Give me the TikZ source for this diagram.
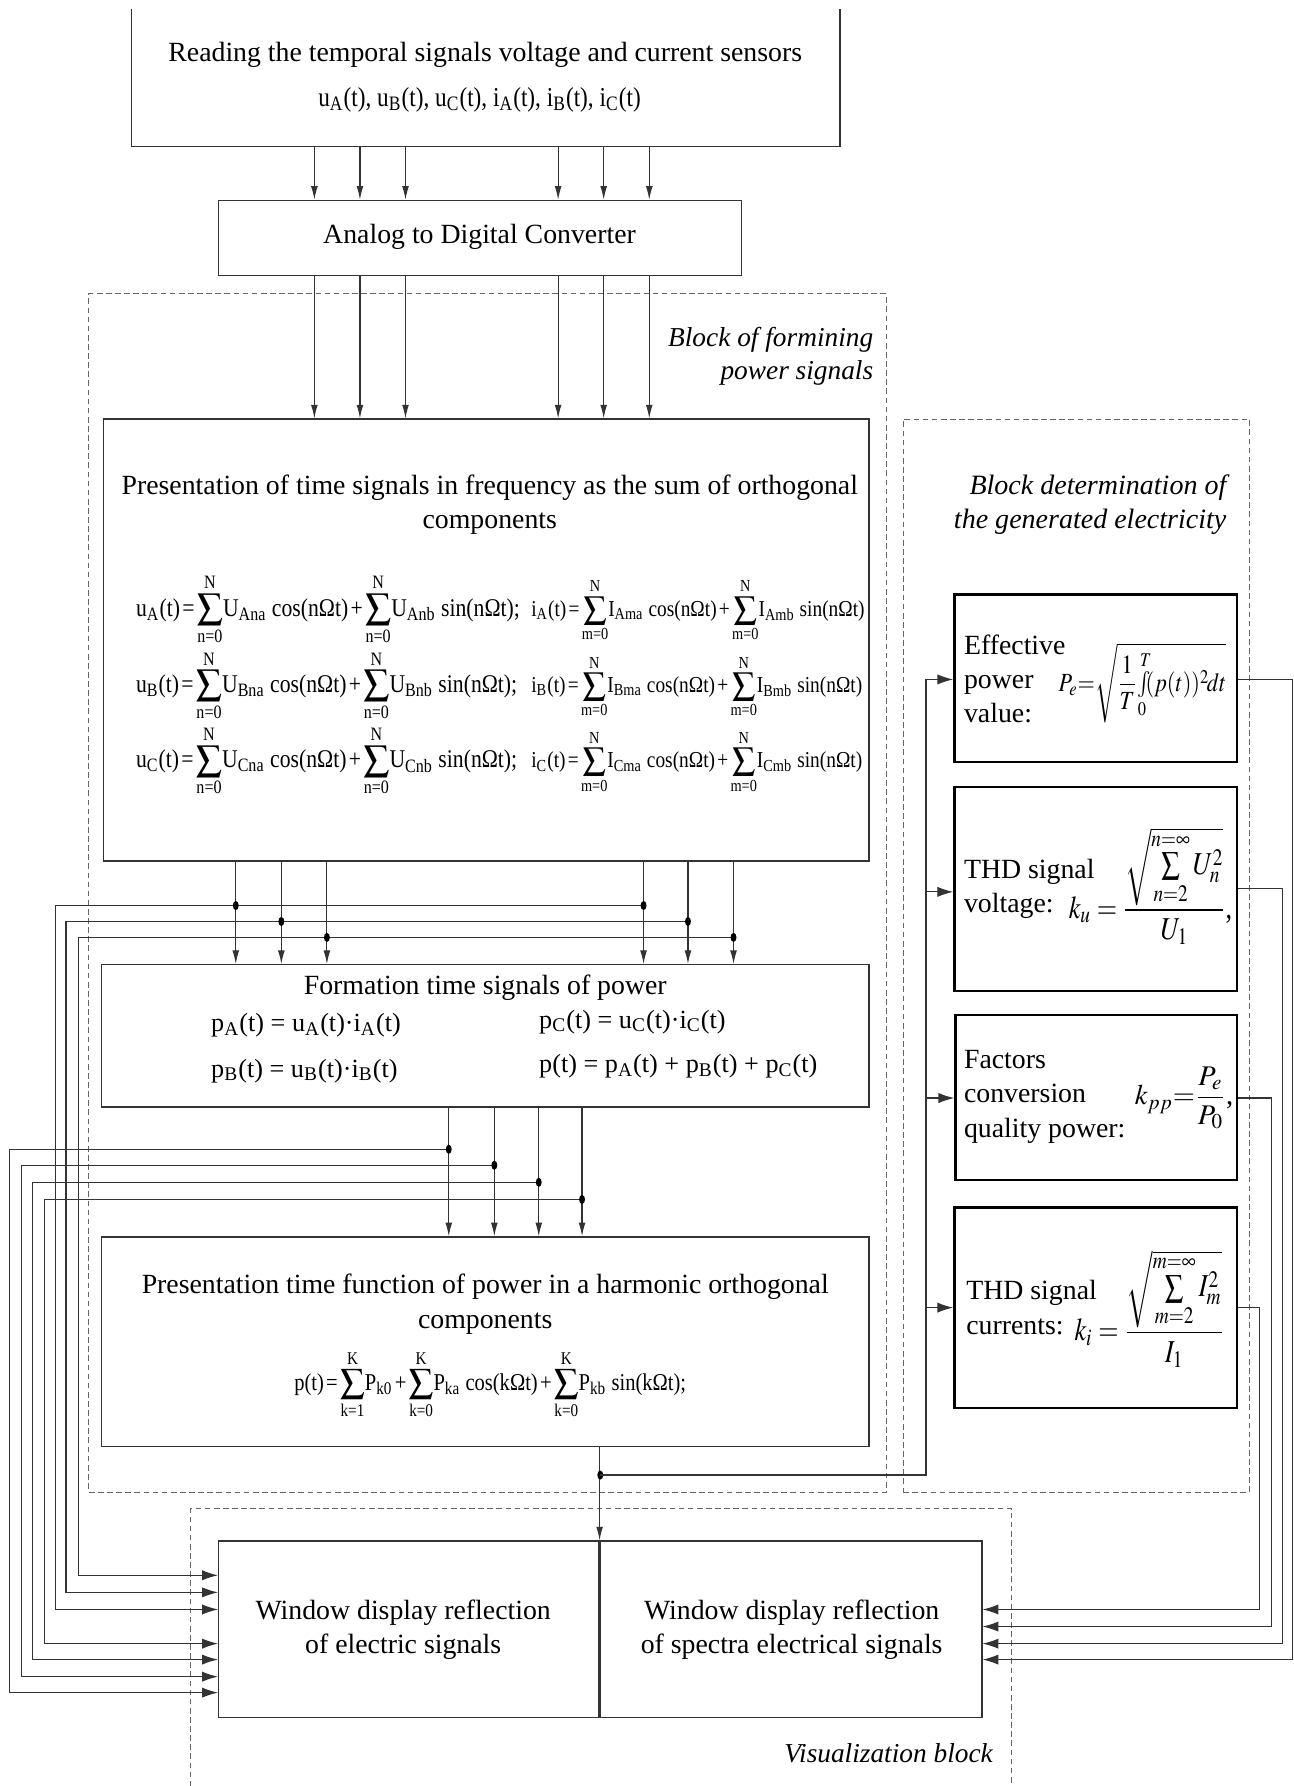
\documentclass[tikz,border=0pt]{standalone}
\usepackage{amsmath}
\usepackage{mathptmx}
\usepackage{graphicx}
\usepackage{fontspec}
\setmainfont{Liberation Serif}
\newfontfamily\cond[FakeStretch=0.85]{Liberation Serif}
\usetikzlibrary{arrows.meta,fit,calc}
\newcommand{\sbs}[1]{\textsubscript{#1}}
\newcommand{\mysum}[2]{$\displaystyle\sum_{\text{#1}}^{\text{#2}}$}
\newcommand{\ks}{\kern1pt}
\begin{document}
\begin{tikzpicture}[x=0.5pt,y=-0.5pt,
  box/.style={draw=black!80, line width=0.6pt, inner sep=0pt},
  rbox/.style={draw=black, line width=1.1pt, inner sep=0pt},
  dbox/.style={draw=black!60, dash pattern=on 2.5pt off 1.5pt, line width=0.45pt, inner sep=0pt},
  conn/.style={draw=black!80, line width=0.5pt},
  arr/.style={conn, -{Latex[length=6pt,width=3pt]}},
  sarr/.style={conn, -{Latex[length=7pt,width=4.5pt]}},
  txt/.style={font=\fontsize{12.2}{15}\selectfont, inner sep=0pt},
  eq/.style={font=\cond\fontsize{11.2}{13}\selectfont, inner sep=0pt},
  eqr/.style={font=\cond\fontsize{10}{13}\selectfont, inner sep=0pt},
  feq/.style={font=\fontsize{11.5}{13}\selectfont, inner sep=0pt},
  lbl/.style={font=\fontsize{12}{14.5}\selectfont\itshape, inner sep=0pt, align=right}]
\useasboundingbox (0,0) rectangle (1136,1568);

% dashed blocks
\node[dbox, fit={(78,258) (778,1310)}] (blkP) {};
\node[dbox, fit={(793,368) (1097,1310)}] (blkD) {};
\node[inner sep=0pt, fit={(168,1325) (888,1568)}] (blkV) {};
\draw[dbox] (blkV.south west) -- (blkV.north west) -- (blkV.north east) -- (blkV.south east);

% boxes
\node[inner sep=0pt, fit={(116,8) (737,128)}] (top) {};
\draw[box] (top.north west) -- (top.south west) -- (top.south east) -- (top.north east);
\node[box, fit={(192,176) (651,242)}] (adc) {};
\node[box, fit={(91,368) (763,756)}] (pres1) {};
\node[box, fit={(89,847) (763,972)}] (form) {};
\node[box, fit={(89,1086) (763,1270)}] (pres2) {};
\node[box, fit={(192,1353) (526,1508)}] (win1) {};
\node[box, fit={(527,1353) (862,1508)}] (win2) {};
\node[rbox, fit={(838,522) (1086,669)}] (eff) {};
\node[rbox, fit={(838,691) (1086,870)}] (thdu) {};
\node[rbox, fit={(839,891) (1086,1036)}] (fac) {};
\node[rbox, fit={(838,1060) (1086,1236)}] (thdi) {};

% texts
\node[txt] (t1) at (426,48) {Reading the temporal signals voltage and current sensors};
\node[txt, font=\cond\fontsize{12}{15}\selectfont] (t2) at (421,88) {u\sbs{A}(t), u\sbs{B}(t), u\sbs{C}(t), i\sbs{A}(t), i\sbs{B}(t), i\sbs{C}(t)};
\node[txt] (tadc) at (421,208) {Analog to Digital Converter};
\node[lbl, anchor=east] (lp) at (767,313) {Block of formining\\power signals};
\node[txt, align=center] (tp1) at (430,443) {Presentation of time signals in frequency as the sum of orthogonal\\components};

\node[eq, anchor=base west] (e1) at (119,541) {u\sbs{A}(t)\ks=\ks\mysum{n=0}{N}U\sbs{Ana} cos(nΩt)\ks+\ks\mysum{n=0}{N}U\sbs{Anb} sin(nΩt);};
\node[eq, anchor=base west] (e2) at (119,608) {u\sbs{B}(t)\ks=\ks\mysum{n=0}{N}U\sbs{Bna} cos(nΩt)\ks+\ks\mysum{n=0}{N}U\sbs{Bnb} sin(nΩt);};
\node[eq, anchor=base west] (e3) at (119,674) {u\sbs{C}(t)\ks=\ks\mysum{n=0}{N}U\sbs{Cna} cos(nΩt)\ks+\ks\mysum{n=0}{N}U\sbs{Cnb} sin(nΩt);};
\node[eqr, anchor=base west] (e4) at (466,541) {i\sbs{A}(t)\ks=\ks\mysum{m=0}{N}I\sbs{Ama} cos(nΩt)\ks+\ks\mysum{m=0}{N}I\sbs{Amb} sin(nΩt)};
\node[eqr, anchor=base west] (e5) at (466,608) {i\sbs{B}(t)\ks=\ks\mysum{m=0}{N}I\sbs{Bma} cos(nΩt)\ks+\ks\mysum{m=0}{N}I\sbs{Bmb} sin(nΩt)};
\node[eqr, anchor=base west] (e6) at (466,674) {i\sbs{C}(t)\ks=\ks\mysum{m=0}{N}I\sbs{Cma} cos(nΩt)\ks+\ks\mysum{m=0}{N}I\sbs{Cmb} sin(nΩt)};

\node[txt] (tf) at (426,867) {Formation time signals of power};
\node[feq, anchor=west] (f1) at (185,900) {p\sbs{A}(t) = u\sbs{A}(t)·i\sbs{A}(t)};
\node[feq, anchor=west] (f2) at (185,940) {p\sbs{B}(t) = u\sbs{B}(t)·i\sbs{B}(t)};
\node[feq, anchor=west] (f3) at (473,897) {p\sbs{C}(t) = u\sbs{C}(t)·i\sbs{C}(t)};
\node[feq, anchor=west] (f4) at (473,936) {p(t) = p\sbs{A}(t) + p\sbs{B}(t) + p\sbs{C}(t)};

\node[txt, align=center] (tp2) at (426,1145) {Presentation time function of power in a harmonic orthogonal\\components};
\node[eq, font=\cond\fontsize{10.6}{13}\selectfont, anchor=base west] (e7) at (258,1221) {p(t)\ks=\ks\mysum{k=1}{K}P\sbs{k0}\ks+\ks\mysum{k=0}{K}P\sbs{ka} cos(kΩt)\ks+\ks\mysum{k=0}{K}P\sbs{kb} sin(kΩt);};

\node[txt, align=center] (tw1) at (354,1431) {Window display reflection\\of electric signals};
\node[txt, align=center] (tw2) at (695,1431) {Window display reflection\\of spectra electrical signals};
\node[lbl, anchor=east] (lv) at (872,1539) {Visualization block};
\node[lbl, anchor=east, font=\fontsize{12.3}{15}\selectfont\itshape] (ld) at (1077,443) {Block determination of\\the generated electricity};

\node[txt, anchor=west, align=left] (te) at (846,596) {Effective\\power\\value:};
\node[txt, anchor=base west, font=\fontsize{11.5}{15}\selectfont] (me) at (929,607) {\scalebox{0.85}[1]{$P_e{=}\sqrt{\dfrac{1}{T}\!\int\limits_0^T\!\!(p(t))^2\!dt}$}};
\node[txt, anchor=west, align=left] (tu) at (846,780) {THD signal\\voltage:};
\node[txt, anchor=base west, font=\fontsize{14}{16}\selectfont] (mu) at (938,806) {\scalebox{0.82}[1]{$k_u=\dfrac{\sqrt{\sum\limits_{n=2}^{n=\infty}U_n^2}}{U_1}$,}};
\node[txt, anchor=west, align=left] (tfac) at (846,963) {Factors\\conversion\\quality power:};
\node[txt, anchor=base west, font=\fontsize{12.5}{16}\selectfont] (mf) at (996,970) {$k_{pp}{=}\dfrac{P_e}{P_0}$,};
\node[txt, anchor=west, align=left] (ti) at (848,1148) {THD signal\\currents:};
\node[txt, anchor=base west, font=\fontsize{14}{16}\selectfont] (mi) at (943,1177) {\scalebox{0.82}[1]{$k_i=\dfrac{\sqrt{\sum\limits_{m=2}^{m=\infty}I_m^2}}{I_1}$}};

% connectors top -> adc -> pres1
\foreach \x in {276,316,356,490,530,570}{
  \coordinate (c) at (\x,0);
  \draw[arr] (top.south -| c) -- (adc.north -| c);
  \draw[arr] (adc.south -| c) -- (pres1.north -| c);
}
% pres1 -> form with buses to win1
\foreach \xa/\xb/\yy/\lx/\ay in {207/565/795/48.5/1413, 247/604/809/58/1398, 287/644/823/69/1383}{
  \coordinate (pa) at (\xa,\yy); \coordinate (pb) at (\xb,\yy);
  \coordinate (pl) at (\lx,\yy); \coordinate (pw) at (\lx,\ay);
  \draw[arr] (pres1.south -| pa) -- (form.north -| pa);
  \draw[arr] (pres1.south -| pb) -- (form.north -| pb);
  \draw[sarr] (pb) -- (pl) -- (pw) -- (win1.west |- pw);
  \fill (pa) ellipse (1.3pt and 2pt);
  \fill (pb) ellipse (1.3pt and 2pt);
}
% form -> pres2 with buses to win1
\foreach \xa/\yy/\lx/\ay in {394/1009/8.6/1486, 434/1023/18.6/1472, 473/1038/28.7/1457, 511/1053/38.8/1443}{
  \coordinate (pa) at (\xa,\yy);
  \coordinate (pl) at (\lx,\yy); \coordinate (pw) at (\lx,\ay);
  \draw[arr] (form.south -| pa) -- (pres2.north -| pa);
  \draw[sarr] (pa) -- (pl) -- (pw) -- (win1.west |- pw);
  \fill (pa) ellipse (1.3pt and 2pt);
}
% pres2 -> windows and right block
\coordinate (q) at (527,1295);
\coordinate (bus) at (813,1295);
\coordinate (bustop) at (813,596.5);
\draw[arr] (pres2.south -| win2.north west) -- (win2.north west);
\fill (q) ellipse (1.3pt and 2pt);
\draw[conn] (q) -- (bus) -- (bustop);
\foreach \b/\yy in {eff/596.5, thdu/783, fac/964, thdi/1148}{
  \coordinate (by) at (813,\yy);
  \draw[sarr] (by) -- (\b.west |- by);
}
% right outputs -> win2
\foreach \b/\yy/\rx/\ay in {eff/596.5/1135/1457, thdu/780/1126/1443, fac/964/1116/1428, thdi/1148/1106/1413}{
  \coordinate (o1) at (\rx,\yy); \coordinate (o2) at (\rx,\ay);
  \draw[sarr] (\b.east |- o1) -- (o1) -- (o2) -- (win2.east |- o2);
}
\end{tikzpicture}
\end{document}
